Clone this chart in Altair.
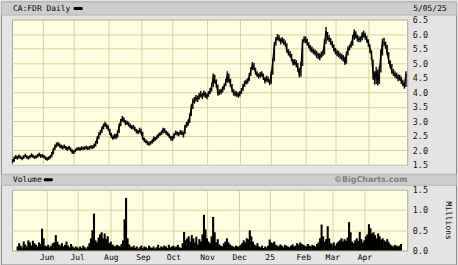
import altair as alt
import pandas as pd

# ---------------- data ----------------
close = [
    # May 2024
    1.62, 1.72, 1.78, 1.74, 1.80, 1.76, 1.72, 1.78, 1.82, 1.77, 1.74, 1.79, 1.84, 1.80, 1.76, 1.78, 1.82, 1.86, 1.80,
    # Jun
    1.82, 1.78, 1.74, 1.70, 1.74, 1.78, 1.88, 2.02, 2.12, 2.20, 2.22, 2.16, 2.12, 2.10, 2.14, 2.08, 2.05, 2.10, 2.02, 1.96,
    # Jul
    1.94, 2.00, 2.05, 2.06, 2.04, 2.08, 2.06, 2.08, 2.10, 2.07, 2.09, 2.12, 2.10, 2.16, 2.25, 2.40, 2.55, 2.62, 2.75, 2.84, 2.90, 2.82,
    # Aug
    2.76, 2.60, 2.48, 2.42, 2.50, 2.46, 2.62, 2.85, 3.00, 3.10, 3.04, 2.92, 2.96, 2.88, 2.84, 2.78, 2.80, 2.72, 2.66, 2.62, 2.70,
    # Sep
    2.62, 2.42, 2.35, 2.30, 2.25, 2.22, 2.26, 2.30, 2.42, 2.38, 2.45, 2.52, 2.56, 2.60, 2.72, 2.66, 2.60, 2.56, 2.48, 2.42,
    # Oct
    2.40, 2.52, 2.60, 2.58, 2.55, 2.62, 2.60, 2.52, 2.80, 2.88, 2.95, 3.15, 3.45, 3.68, 3.72, 3.80, 3.76, 3.88, 3.93, 3.85, 3.97, 3.90,
    # Nov
    3.86, 3.95, 4.05, 4.20, 4.52, 4.40, 4.27, 3.96, 4.00, 4.03, 4.10, 4.20, 4.35, 4.60, 4.45, 4.27, 4.10, 3.97, 3.95, 3.93, 3.90,
    # Dec
    3.95, 4.05, 4.18, 4.30, 4.35, 4.38, 4.55, 4.75, 4.94, 4.85, 4.68, 4.60, 4.55, 4.60, 4.62, 4.50, 4.38, 4.48, 4.42, 4.32,
    # Jan 2025
    4.62, 5.06, 5.62, 5.80, 5.90, 5.85, 5.75, 5.80, 5.72, 5.68, 5.42, 5.35, 5.30, 5.15, 5.00, 5.05, 4.96, 4.80, 4.58, 4.90, 5.72, 5.82,
    # Feb
    5.80, 5.70, 5.60, 5.50, 5.45, 5.40, 5.36, 5.30, 5.25, 5.22, 5.30, 5.34, 5.70, 6.10, 5.88, 5.82, 5.72, 5.64, 5.50,
    # Mar
    5.40, 5.35, 5.30, 5.25, 5.20, 5.17, 5.02, 5.30, 5.47, 5.55, 5.64, 5.85, 6.05, 5.95, 5.85, 5.82, 5.82, 5.95, 6.00, 5.90, 5.82,
    # Apr / May
    5.70, 5.50, 5.30, 4.62, 4.40, 4.72, 4.32, 4.72, 5.30, 5.72, 5.70, 5.62, 5.35, 5.06, 4.90, 4.72, 4.65, 4.60, 4.55, 4.48, 4.50, 4.38, 4.30, 4.22, 4.62,
]
high = [
    1.70, 1.79, 1.84, 1.81, 1.86, 1.82, 1.79, 1.83, 1.88, 1.84, 1.80, 1.84, 1.90, 1.86, 1.81, 1.83, 1.88, 1.92, 1.87,
    1.87, 1.84, 1.79, 1.76, 1.79, 1.83, 1.94, 2.08, 2.20, 2.27, 2.29, 2.24, 2.19, 2.17, 2.20, 2.15, 2.12, 2.16, 2.10, 2.04,
    2.00, 2.06, 2.10, 2.12, 2.11, 2.14, 2.12, 2.14, 2.16, 2.14, 2.15, 2.18, 2.17, 2.23, 2.32, 2.48, 2.62, 2.70, 2.82, 2.92, 2.98, 2.92,
    2.86, 2.74, 2.60, 2.52, 2.57, 2.56, 2.68, 2.92, 3.08, 3.18, 3.14, 3.04, 3.02, 2.98, 2.92, 2.87, 2.88, 2.82, 2.74, 2.70, 2.78,
    2.74, 2.64, 2.44, 2.38, 2.33, 2.30, 2.32, 2.37, 2.48, 2.46, 2.52, 2.58, 2.62, 2.68, 2.78, 2.76, 2.68, 2.64, 2.57, 2.50,
    2.50, 2.60, 2.68, 2.66, 2.63, 2.70, 2.68, 2.62, 2.88, 2.98, 3.06, 3.27, 3.58, 3.78, 3.84, 3.90, 3.88, 3.98, 4.04, 3.97, 4.06, 4.01,
    3.96, 4.04, 4.14, 4.32, 4.64, 4.60, 4.44, 4.26, 4.10, 4.12, 4.20, 4.30, 4.46, 4.72, 4.64, 4.46, 4.28, 4.10, 4.05, 4.03, 4.00,
    4.04, 4.14, 4.28, 4.40, 4.44, 4.48, 4.66, 4.87, 5.04, 5.00, 4.84, 4.72, 4.65, 4.69, 4.72, 4.64, 4.52, 4.57, 4.54, 4.44,
    4.72, 5.17, 5.72, 5.90, 6.00, 5.97, 5.86, 5.90, 5.84, 5.78, 5.68, 5.48, 5.42, 5.32, 5.14, 5.14, 5.10, 5.00, 4.84, 5.04, 5.82, 5.92,
    5.92, 5.84, 5.72, 5.62, 5.56, 5.50, 5.47, 5.42, 5.36, 5.34, 5.40, 5.44, 5.82, 6.24, 6.07, 5.96, 5.86, 5.76, 5.64,
    5.52, 5.46, 5.42, 5.36, 5.32, 5.28, 5.22, 5.40, 5.58, 5.64, 5.74, 5.97, 6.16, 6.10, 5.98, 5.92, 5.92, 6.06, 6.12, 6.04, 5.94,
    5.82, 5.64, 5.44, 5.12, 4.72, 4.87, 4.78, 4.87, 5.47, 5.84, 5.87, 5.74, 5.62, 5.38, 5.10, 4.97, 4.80, 4.72, 4.67, 4.62, 4.60, 4.54, 4.44, 4.36, 4.72,
]
low = [
    1.56, 1.61, 1.70, 1.68, 1.71, 1.70, 1.66, 1.70, 1.75, 1.71, 1.68, 1.72, 1.76, 1.74, 1.70, 1.72, 1.75, 1.79, 1.74,
    1.75, 1.72, 1.67, 1.64, 1.67, 1.71, 1.76, 1.86, 2.00, 2.10, 2.14, 2.09, 2.05, 2.03, 2.07, 2.01, 1.98, 2.02, 1.96, 1.88,
    1.87, 1.93, 1.98, 2.00, 1.98, 2.01, 2.00, 2.02, 2.03, 2.01, 2.02, 2.05, 2.04, 2.08, 2.13, 2.22, 2.38, 2.52, 2.60, 2.72, 2.80, 2.74,
    2.68, 2.54, 2.42, 2.36, 2.40, 2.38, 2.44, 2.60, 2.83, 2.98, 2.96, 2.86, 2.88, 2.82, 2.76, 2.72, 2.72, 2.66, 2.58, 2.55, 2.60,
    2.54, 2.36, 2.28, 2.24, 2.18, 2.16, 2.19, 2.23, 2.28, 2.32, 2.37, 2.43, 2.49, 2.53, 2.58, 2.60, 2.53, 2.49, 2.42, 2.34,
    2.32, 2.40, 2.52, 2.51, 2.48, 2.54, 2.53, 2.44, 2.56, 2.78, 2.84, 2.94, 3.18, 3.42, 3.60, 3.68, 3.66, 3.74, 3.82, 3.76, 3.84, 3.80,
    3.76, 3.84, 3.94, 4.02, 4.18, 4.30, 4.16, 3.88, 3.90, 3.93, 3.99, 4.08, 4.20, 4.32, 4.34, 4.18, 4.00, 3.88, 3.86, 3.84, 3.81,
    3.85, 3.94, 4.04, 4.18, 4.26, 4.29, 4.38, 4.56, 4.76, 4.76, 4.60, 4.52, 4.46, 4.50, 4.53, 4.42, 4.30, 4.36, 4.33, 4.24,
    4.28, 4.60, 5.06, 5.60, 5.78, 5.74, 5.64, 5.68, 5.62, 5.58, 5.36, 5.26, 5.20, 5.06, 4.92, 4.93, 4.86, 4.70, 4.50, 4.54, 4.90, 5.70,
    5.68, 5.60, 5.50, 5.40, 5.36, 5.30, 5.26, 5.18, 5.14, 5.10, 5.18, 5.24, 5.30, 5.66, 5.78, 5.72, 5.62, 5.53, 5.40,
    5.30, 5.24, 5.20, 5.14, 5.10, 5.06, 4.94, 4.98, 5.26, 5.44, 5.53, 5.60, 5.80, 5.84, 5.74, 5.72, 5.72, 5.78, 5.88, 5.80, 5.70,
    5.56, 5.34, 5.12, 4.43, 4.26, 4.28, 4.23, 4.28, 4.68, 5.26, 5.58, 5.50, 5.28, 4.98, 4.82, 4.63, 4.56, 4.50, 4.46, 4.38, 4.40, 4.28, 4.20, 4.12, 4.18,
]
volume = [  # millions of shares
    0.10, 0.18, 0.12, 0.08, 0.22, 0.15, 0.10, 0.25, 0.20, 0.12, 0.24, 0.18, 0.14, 0.10, 0.20, 0.16, 0.54, 0.30, 0.12,
    0.10, 0.14, 0.08, 0.12, 0.18, 0.20, 0.38, 0.22, 0.15, 0.12, 0.18, 0.10, 0.14, 0.22, 0.12, 0.08, 0.16, 0.10, 0.06, 0.10,
    0.08, 0.05, 0.10, 0.06, 0.12, 0.08, 0.05, 0.10, 0.18, 0.30, 0.50, 0.91, 0.25, 0.20, 0.32, 0.40, 0.45, 0.30, 0.42, 0.28, 0.35, 0.18,
    0.22, 0.15, 0.12, 0.10, 0.14, 0.12, 0.10, 0.16, 0.25, 0.77, 1.30, 0.30, 0.15, 0.10, 0.08, 0.12, 0.06, 0.10, 0.05, 0.08, 0.12,
    0.06, 0.10, 0.08, 0.05, 0.12, 0.08, 0.06, 0.10, 0.05, 0.08, 0.14, 0.06, 0.10, 0.08, 0.12, 0.10, 0.06, 0.14, 0.08, 0.10,
    0.12, 0.08, 0.10, 0.14, 0.08, 0.06, 0.18, 0.46, 0.25, 0.30, 0.35, 0.22, 0.38, 0.30, 0.20, 0.34, 0.15, 0.28, 0.22, 0.40, 0.88, 0.52,
    0.30, 0.22, 0.18, 0.35, 0.83, 0.45, 0.20, 0.28, 0.15, 0.12, 0.10, 0.18, 0.22, 0.30, 0.20, 0.15, 0.12, 0.10, 0.08, 0.12, 0.10,
    0.10, 0.14, 0.18, 0.25, 0.20, 0.30, 0.28, 0.50, 0.35, 0.22, 0.15, 0.12, 0.18, 0.10, 0.08, 0.12, 0.06, 0.10, 0.08, 0.12,
    0.27, 0.20, 0.18, 0.22, 0.14, 0.12, 0.10, 0.15, 0.12, 0.08, 0.14, 0.12, 0.10, 0.08, 0.12, 0.15, 0.10, 0.12, 0.18, 0.14, 0.20, 0.16,
    0.14, 0.12, 0.10, 0.16, 0.12, 0.10, 0.14, 0.12, 0.10, 0.16, 0.20, 0.30, 0.64, 0.35, 0.22, 0.28, 0.60, 0.30, 0.18,
    0.15, 0.20, 0.12, 0.18, 0.22, 0.25, 0.30, 0.22, 0.28, 0.24, 0.32, 0.70, 0.45, 0.22, 0.18, 0.25, 0.30, 0.24, 0.46, 0.28, 0.20,
    0.25, 0.35, 0.40, 0.65, 0.55, 0.42, 0.45, 0.38, 0.30, 0.42, 0.35, 0.27, 0.30, 0.25, 0.22, 0.28, 0.20, 0.15, 0.12, 0.10, 0.14, 0.12, 0.10, 0.12, 0.16,
]
month_starts = [19, 39, 61, 82, 102, 124, 145, 165, 187, 206, 227]  # trading-day index
month_labels = ["Jun", "Jul", "Aug", "Sep", "Oct", "Nov", "Dec", "25", "Feb", "Mar", "Apr"]
price_ticks = [1.5, 2.0, 2.5, 3.0, 3.5, 4.0, 4.5, 5.0, 5.5, 6.0, 6.5]
volume_ticks = [0.0, 0.5, 1.0, 1.5]
title_text = "CA:FDR Daily"
date_text = "5/05/25"
volume_text = "Volume"
credit_text = "\u00a9BigCharts.com"
volume_unit = "Millions"

# ---------------- chart ----------------
n = len(close)
df = pd.DataFrame({"day": list(range(n)), "close": close, "high": high,
                   "low": low, "volume": volume})
one = pd.DataFrame({"k": [0]})

GRID = "#d8d49c"
MONO = "DejaVu Sans Mono"
BAND = "#cdcdcd"
W, HP, HV = 397, 146, 61

x_scale = alt.Scale(domain=[-0.45, 251.8], nice=False, zero=False)
label_expr = ("[" + ",".join(f"'{m}'" for m in month_labels) + "][indexof(["
              + ",".join(str(v) for v in month_starts) + "], datum.value)]")

price_x_axis = alt.Axis(values=month_starts, labels=False, ticks=False, domain=False,
                        grid=True, gridColor=GRID, title=None)
price_y_scale = alt.Scale(domain=[1.5, 6.5], nice=False, zero=False)
price_y_axis = alt.Axis(orient="right", values=price_ticks, format=".1f", grid=True,
                        gridColor=GRID, ticks=False, domain=False, labelPadding=5,
                        labelOverlap=False, labelFlush=False, labelBound=False,
                        labelFont=MONO, labelFontSize=8.5, labelColor="#111", title=None)

bars = alt.Chart(df).mark_rule(color="#111111", strokeWidth=1.5).encode(
    x=alt.X("day:Q", scale=x_scale, axis=price_x_axis),
    y=alt.Y("low:Q", scale=price_y_scale, axis=price_y_axis),
    y2="high:Q")
line = alt.Chart(df).mark_line(color="#000000", strokeWidth=1.3).encode(
    x=alt.X("day:Q", scale=x_scale, axis=price_x_axis),
    y=alt.Y("close:Q", scale=price_y_scale, axis=price_y_axis))

border = alt.Chart(one).mark_rect(fillOpacity=0, stroke="#8c8c8c", strokeWidth=1).encode(
    x=alt.value(-10.5), x2=alt.value(446.5), y=alt.value(-17.5), y2=alt.value(246.5))
band1 = alt.Chart(one).mark_rect(fill=BAND, stroke="#b4b4b4", strokeWidth=1).encode(
    x=alt.value(-10.5), x2=alt.value(446.5), y=alt.value(-17.5), y2=alt.value(-4.5))
t_title = alt.Chart(one).mark_text(text=title_text, align="left", baseline="middle", font=MONO,
                                   fontSize=8, color="#000").encode(x=alt.value(1), y=alt.value(-11))
dash1 = alt.Chart(one).mark_rect(color="#000", cornerRadius=1).encode(
    x=alt.value(62), x2=alt.value(71), y=alt.value(-12.5), y2=alt.value(-9.5))
t_date = alt.Chart(one).mark_text(text=date_text, align="left", baseline="middle", font=MONO,
                                  fontSize=8, color="#000").encode(x=alt.value(403), y=alt.value(-11))

price = alt.layer(border, band1, t_title, dash1, t_date, bars, line).properties(width=W, height=HP)

vol_x = alt.X("day:Q", scale=x_scale,
              axis=alt.Axis(values=month_starts, labelExpr=label_expr, ticks=False, domain=False,
                            grid=True, gridColor=GRID, labelPadding=3, labelFont=MONO,
                            labelFontSize=8, labelColor="#000", labelOverlap=False,
                            labelFlush=False, title=None))
vol_y = alt.Y("volume:Q", scale=alt.Scale(domain=[0, 1.5], nice=False),
              axis=alt.Axis(orient="right", values=volume_ticks, format=".1f", grid=True,
                            gridColor=GRID, ticks=False, domain=False, labelPadding=5,
                            labelOverlap=False, labelFlush=False,
                            labelFont=MONO, labelFontSize=8.5, labelColor="#111",
                            title=volume_unit, titleFont=MONO, titleFontSize=8,
                            titleFontWeight="normal", titleColor="#000", titleAngle=90,
                            titleX=40, titleY=30.5, titleAlign="center", titleBaseline="middle"))
vbars = alt.Chart(df).mark_bar(color="#000", size=2.1).encode(x=vol_x, y=vol_y)

band2 = alt.Chart(one).mark_rect(fill=BAND, stroke="#b4b4b4", strokeWidth=1).encode(
    x=alt.value(-10.5), x2=alt.value(446.5), y=alt.value(-15.5), y2=alt.value(-4.5))
t_vol = alt.Chart(one).mark_text(text=volume_text, align="left", baseline="middle", font=MONO,
                                 fontSize=8, color="#000").encode(x=alt.value(1), y=alt.value(-10))
dash2 = alt.Chart(one).mark_rect(color="#000", cornerRadius=1).encode(
    x=alt.value(32), x2=alt.value(41), y=alt.value(-11.5), y2=alt.value(-8.5))
t_credit = alt.Chart(one).mark_text(text=credit_text, align="right", baseline="middle",
                                    font="DejaVu Sans", fontSize=8, fontWeight="bold",
                                    color="#7d7d7d").encode(x=alt.value(397), y=alt.value(-10))

vol = alt.layer(band2, t_vol, dash2, t_credit, vbars).properties(width=W, height=HV)

chart = alt.vconcat(price, vol, spacing=25, bounds="flush").properties(
    padding=0, background="#e4e4e4"
).configure_view(fill="#ffffe2", stroke="#a0a0a0", strokeWidth=1)

chart.save("out.html", embed_options={"renderer": "svg", "actions": False})
